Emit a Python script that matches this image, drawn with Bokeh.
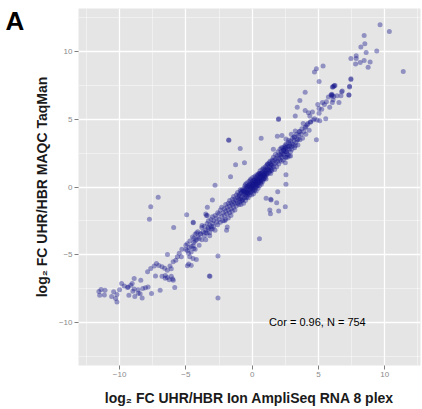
from bokeh.plotting import figure
from bokeh.models import Range1d, FixedTicker, Label
from bokeh.layouts import row
from bokeh.core.properties import value
from bokeh.embed import file_html
from bokeh.resources import INLINE

# ---- data ----
lower_tail = [(-7.65,-1.46),(-7.75,-2.39),(-7.09,-0.76),(-5.92,-2.99),(-6.39,-4.99),(-5.96,-5.53),(-5.76,-5.41),(-5.64,-5.16),
              (-5.34,-5.16),(-4.71,-5.16),(-4.46,-5.28),(-4.21,-5.36),(-4.89,-5.83),(-4.79,-5.7),(-4.59,-5.8),(-7.22,-5.65),
              (-7.04,-5.8),(-7.89,-6.27),(-7.65,-6.02),(-7.39,-5.85),(-6.8,-5.9),(-6.6,-6.0),(-6.4,-6.15),(-6.2,-5.85),
              (-6.1,-6.05),(-6.8,-6.6),(-6.55,-6.75),(-6.4,-6.7),(-6.25,-6.85),(-6.1,-6.6),(-5.95,-6.9),(-6.0,-6.8),
              (-6.55,-6.55),(-7.29,-6.59),(-5.84,-7.43),(-6.94,-7.63),(-7.59,-7.87),(-3.23,-6.59),(-8.4,-6.89),(-8.9,-6.76),
              (-9.05,-7.13),(-9.85,-7.13),(-9.65,-7.33),(-9.4,-7.43),(-9.15,-7.26),(-8.9,-7.55),(-8.6,-7.6),(-8.25,-7.5),
              (-8.05,-7.45),(-7.85,-7.4),(-8.45,-7.9),(-8.3,-8.2),(-8.85,-8.1),(-8.6,-7.85),(-9.3,-8.0),(-9.35,-7.4),
              (-9.0,-7.7),(-10.0,-7.6),(-10.2,-7.95),(-10.45,-7.75),(-10.6,-8.1),(-10.3,-8.25),(-10.2,-8.5),(-11.56,-7.73),
              (-11.4,-7.58),(-11.1,-7.63),(-11.15,-7.98),(-11.5,-8.0),(-2.58,-5.1),(-3.18,-6.6),(-2.58,-8.2),
              (-5.0,-4.3),(-4.75,-4.5),(-4.6,-4.8),(-4.4,-4.55),(-4.9,-4.7),(-4.45,-4.35),(-5.3,-4.6),(-5.5,-4.9)]

lower_band = [(-5.0,-4.6),(-4.9,-4.2),(-4.8,-4.9),(-4.7,-4.0),(-4.6,-4.4),(-4.5,-3.7),(-4.4,-4.1),(-4.3,-3.5),(-4.3,-4.6),
              (-4.2,-3.9),(-4.1,-3.3),(-4.0,-3.8),(-4.0,-4.3),(-3.9,-3.5),(-3.8,-3.0),(-3.8,-3.9),(-3.7,-3.3),(-3.6,-3.6),
              (-3.6,-2.9),(-3.5,-3.2),(-3.5,-3.9),(-3.4,-2.7),(-3.4,-3.4),(-3.3,-3.0),(-3.3,-2.5),(-3.2,-3.6),(-3.2,-2.8),
              (-3.1,-2.4),(-3.1,-3.1),(-3.0,-2.7),(-3.0,-2.2),(-2.9,-2.9),(-2.9,-2.5),(-2.8,-2.1),(-2.8,-3.2),(-2.7,-2.6),
              (-2.7,-2.3),(-2.6,-1.9),(-2.6,-2.8),(-2.5,-2.4),(-2.5,-2.0),(-2.4,-1.7),(-2.4,-2.6),(-2.3,-2.2),(-2.3,-1.5),
              (-2.2,-1.9),(-2.2,-2.5),(-2.1,-1.6),(-2.1,-2.1),(-2.0,-1.3),(-2.0,-1.8),(-2.0,-2.4),(-1.9,-1.5),(-1.9,-2.0),
              (-1.8,-1.2),(-1.8,-1.7),(-1.8,-2.3),(-1.7,-1.4),(-1.7,-1.0),(-1.7,-1.9),(-1.6,-1.2),(-1.6,-1.6),(-1.6,-2.1),
              (-1.5,-0.9),(-1.5,-1.3),(-1.5,-1.8),(-1.4,-1.1),(-1.4,-1.5),(-1.4,-0.7),(-1.3,-1.2),(-1.3,-0.9),(-1.3,-1.7),
              (-1.2,-0.6),(-1.2,-1.0),(-1.2,-1.4),(-1.1,-0.8),(-1.1,-1.2),(-1.1,-0.4),(-1.0,-0.9),(-1.0,-0.6),(-1.0,-1.3),
              (-4.44,-2.64),(-3.78,-2.84),(-3.89,-3.43),(-3.53,-3.39),(-3.21,-3.39),(-3.33,-3.09),(-4.1,-3.7),(-4.3,-4.0),
              (-4.2,-3.4),(-4.4,-3.8)]

core = [(-1.0,-0.7),(-0.95,-1.1),(-0.9,-0.5),(-0.9,-0.9),(-0.85,-0.3),(-0.85,-1.3),(-0.8,-0.7),(-0.8,-0.4),(-0.75,-1.0),
        (-0.75,-0.2),(-0.7,-0.6),(-0.7,-0.9),(-0.65,-0.3),(-0.65,-1.2),(-0.6,-0.5),(-0.6,-0.1),(-0.6,-0.8),(-0.55,-0.4),
        (-0.55,0.1),(-0.5,-0.6),(-0.5,-0.2),(-0.5,-1.0),(-0.45,0.0),(-0.45,-0.4),(-0.4,-0.7),(-0.4,-0.1),(-0.4,0.3),
        (-0.35,-0.3),(-0.35,-0.5),(-0.3,0.1),(-0.3,-0.2),(-0.3,-0.8),(-0.25,0.4),(-0.25,-0.4),(-0.2,0.0),(-0.2,-0.6),
        (-0.2,0.2),(-0.15,-0.2),(-0.15,0.5),(-0.1,0.1),(-0.1,-0.4),(-0.1,-0.1),(-0.05,0.3),(-0.05,-0.6),(0.0,0.0),
        (0.0,0.4),(0.0,-0.3),(0.05,0.2),(0.05,0.7),(0.1,-0.1),(0.1,0.3),(0.1,-0.5),(0.15,0.5),(0.15,0.1),(0.2,0.8),
        (0.2,0.2),(0.2,-0.2),(0.25,0.4),(0.25,0.0),(0.3,0.6),(0.3,0.2),(0.3,-0.3),(0.35,0.9),(0.35,0.4),(0.4,0.1),
        (0.4,0.5),(0.4,0.8),(0.45,0.3),(0.45,-0.1),(0.5,0.6),(0.5,1.0),(0.5,0.3),(0.55,0.7),(0.55,0.1),(0.6,0.5),
        (0.6,0.9),(0.6,1.2),(0.65,0.4),(0.65,0.8),(0.7,1.0),(0.7,0.6),(0.7,0.2),(0.75,0.8),(0.75,1.3),(0.8,0.7),
        (0.8,1.1),(0.8,0.4),(0.85,0.9),(0.85,1.4),(0.9,1.0),(0.9,0.6),(0.95,1.2),(0.95,0.8),(1.0,1.1),(1.0,1.5),
        (1.0,0.7),(1.05,1.3),(1.1,0.9),(1.1,1.6),(1.1,1.2),(1.15,1.4),(1.2,1.0),(1.2,1.7),(1.25,1.3),(1.3,1.5),
        (1.3,1.1),(1.35,1.9),(1.4,1.4),(1.4,1.7),(1.45,1.2),(1.5,1.6),(1.5,2.0),
        (-0.9,-0.2),(-0.8,-1.0),(-0.7,-0.3),(-0.6,-0.3),(-0.5,0.2),(-0.45,-0.8),(-0.4,-0.4),(-0.35,0.0),(-0.3,-0.5),
        (-0.25,0.1),(-0.2,-0.3),(-0.15,0.2),(-0.1,0.6),(-0.05,0.0),(0.0,-0.1),(0.0,0.2),(0.05,-0.2),(0.1,0.5),
        (0.1,0.1),(0.15,-0.3),(0.15,0.3),(0.2,0.5),(0.25,0.7),(0.25,0.2),(0.3,0.4),(0.3,0.0),(0.35,0.6),(0.35,0.1),
        (0.4,0.3),(0.45,0.6),(0.45,0.9),(0.5,0.4),(0.55,0.5),(0.55,1.0),(0.6,0.7),(0.65,0.3),(0.65,1.0),(0.7,0.8),
        (0.75,0.5),(0.8,0.9),(0.85,0.6),(0.9,1.3),(0.9,0.8),(0.95,1.0),(1.0,0.9),(1.05,0.6),(1.1,1.0),(1.15,1.7),
        (1.2,1.3),(1.3,1.8),(1.35,1.2),(1.4,1.0),(1.45,1.6),(1.5,1.3)]

upper_band = [(1.55,1.9),(1.6,1.5),(1.6,2.2),(1.65,1.7),(1.7,2.0),(1.7,1.3),(1.75,2.4),(1.8,1.8),(1.8,2.1),(1.85,1.5),
              (1.9,2.3),(1.9,1.9),(1.95,2.6),(2.0,2.1),(2.0,1.7),(2.05,2.4),(2.1,2.0),(2.1,2.8),(2.15,2.3),(2.2,1.9),
              (2.2,2.6),(2.25,2.2),(2.3,2.9),(2.3,2.5),(2.35,2.0),(2.4,2.7),(2.4,2.4),(2.45,3.0),(2.5,2.6),(2.5,2.2),
              (2.55,2.9),(2.6,2.5),(2.6,3.2),(2.65,2.8),(2.7,2.4),(2.7,3.0),(2.75,3.3),(2.8,2.8),(2.85,3.1),(2.9,2.6),
              (2.9,3.4),(2.95,3.0),(3.0,3.2),(3.0,2.8),(3.05,3.6),(3.1,3.1),(3.15,3.4),(3.2,2.9),(3.2,3.7),(3.3,3.3),
              (3.35,3.9),(3.4,3.5),(3.45,3.1),(3.5,3.8),(3.55,4.1),(3.6,3.5),(3.7,3.9),(3.75,4.3),(3.8,3.6),(3.9,4.1),
              (4.0,4.4),(4.05,3.9),(4.15,4.6),(4.3,4.2),(4.4,4.8),(2.2,2.9),(2.5,3.1),(2.8,2.3),(2.35,2.7),(2.65,2.2)]

upper_tail = [(9.65,12.0),(10.35,11.5),(8.45,11.2),(8.5,10.6),(8.2,10.35),(8.6,9.95),(9.4,10.05),(7.85,9.7),(7.85,9.5),
              (7.45,9.5),(8.15,9.2),(8.45,9.35),(8.9,9.25),(7.8,9.1),(8.75,8.85),(11.4,8.55),(7.45,7.95),(7.35,7.4),
              (6.8,7.1),(6.25,7.5),(6.05,7.4),(5.95,6.8),(6.0,6.85),(6.7,6.75),(7.3,6.8),(4.85,8.75),(4.7,8.5),(5.35,8.95),
              (5.05,7.8),(4.0,7.0),(6.15,7.45),(6.2,7.5),(6.1,7.4),(7.45,8.0),(7.35,7.45),(6.75,7.05),(7.3,6.8),
              (6.0,6.75),(6.05,6.8),(6.15,6.7),(6.4,6.75),(5.75,6.65),(3.6,6.4),(5.6,6.3),(5.45,6.1),(6.05,6.25),
              (6.1,6.45),(6.55,6.25),(4.95,6.1),(5.3,6.25),(3.4,5.9),(5.25,5.75),(5.05,5.8),(5.85,5.9),(4.0,5.65),
              (4.25,5.5),(4.55,5.55),(5.05,5.45),(4.35,5.25),(1.98,5.0),(3.25,5.25),(4.7,5.05),(4.6,4.95),(4.9,4.95),
              (5.1,4.9),(5.55,5.05),(4.2,4.7),(3.85,4.7),(4.4,4.8),(4.05,4.45),(3.6,4.1),(3.25,4.15),(2.95,3.9),
              (3.15,3.7),(2.75,3.45),(2.55,3.55),(3.45,3.55),(1.9,3.75),(2.25,3.8),(4.85,3.5),(3.25,3.05),(1.6,2.8),
              (2.2,2.4),(2.4,2.8),(2.6,2.6),(2.8,3.0),(2.9,2.3),(2.5,2.9)]

outliers = [(-1.75,3.45),(-0.9,2.85),(0.68,3.6),(-1.25,1.65),(-0.58,1.8),(-1.63,0.76),(-2.8,0.13),(-3.0,-0.96),
            (-3.5,-2.0),(-3.45,-2.1),(-4.45,-2.6),(0.55,-3.83),(2.55,0.9),(2.55,0.2),(1.43,-0.96),(1.4,-0.9),
            (1.85,-1.16),(2.0,-1.78),(2.5,-1.46),(1.33,-1.7),(1.38,-1.98),(1.05,-0.84),(2.5,1.8),(2.55,2.2),
            (1.93,-0.35),(-2.08,-2.5),(-1.88,-2.96),(-1.93,-3.19),(-3.08,-2.94),(-3.0,-3.1),(-4.94,-2.05),
            (-3.38,-1.5),(-3.38,-2.1),(-1.78,3.48),(2.0,5.04)]

x_ticks = [-10, -5, 0, 5, 10]
y_ticks = [-10, -5, 0, 5, 10]
minor_ticks = [-12.5, -7.5, -2.5, 2.5, 7.5, 12.5]
x_label = "log\u2082 FC UHR/HBR Ion AmpliSeq RNA 8 plex"
y_label = "log\u2082 FC UHR/HBR MAQC TaqMan"
stat_text = "Cor = 0.96, N = 754"
panel_letter = ["A"]

groups = [lower_tail, lower_band, core, upper_band, upper_tail, outliers]
xs = [pt[0] for g in groups for pt in g]
ys = [pt[1] for g in groups for pt in g]

# ---- narrow strip holding the panel letter ----
LW = 30
pa = figure(width=LW, height=409, output_backend="svg", toolbar_location=None,
            x_range=Range1d(0, LW), y_range=Range1d(409, 0),
            min_border=0, outline_line_color=None, background_fill_color="white",
            border_fill_color="white", x_axis_type=None, y_axis_type=None)
pa.grid.visible = False
pa.text(x=[5], y=[14], text=panel_letter, text_font=value("Liberation Sans"), text_font_style="bold",
        text_font_size="26px", text_color="black", text_baseline="alphabetic", text_align="left")

# ---- main scatter ----
p = figure(width=422 - LW, height=409, output_backend="svg", toolbar_location=None,
           x_range=Range1d(-13.1, 12.7), y_range=Range1d(-13.2, 13.2),
           min_border_left=77 - LW, min_border_right=2, min_border_top=8, min_border_bottom=44,
           background_fill_color="#e5e5e5", border_fill_color="white", outline_line_color=None)

for ax, ticks in ((p.xaxis[0], x_ticks), (p.yaxis[0], y_ticks)):
    ax.ticker = FixedTicker(ticks=ticks, minor_ticks=minor_ticks)
    ax.axis_line_color = None
    ax.major_tick_line_color = "#7f7f7f"
    ax.major_tick_in = 0
    ax.major_tick_out = 4
    ax.minor_tick_line_color = None
    ax.major_label_text_font = "Liberation Sans"
    ax.major_label_text_font_size = "8px"
    ax.major_label_text_color = "#8a8a8a"
    ax.axis_label_text_font = "Liberation Sans"
    ax.axis_label_text_font_size = "14px"
    ax.axis_label_text_font_style = "bold"
    ax.axis_label_text_color = "#1a1a1a"

p.xaxis.axis_label = x_label
p.yaxis.axis_label = y_label
p.xaxis.major_label_standoff = 2
p.yaxis.major_label_standoff = 2
p.xaxis.axis_label_standoff = 10
p.yaxis.axis_label_standoff = 6

for g in (p.xgrid[0], p.ygrid[0]):
    g.grid_line_color = "white"
    g.grid_line_width = 1.3
    g.minor_grid_line_color = "white"
    g.minor_grid_line_alpha = 0.6
    g.minor_grid_line_width = 0.7

p.scatter(xs, ys, size=5, fill_color="#14148c", fill_alpha=0.4, line_color=None)

p.add_layout(Label(x=1.28, y=-10.0, text=stat_text, text_baseline="middle", text_align="left",
                   text_font="Liberation Sans", text_font_size="11px", text_color="black"))

layout = row(pa, p, spacing=0)
open("out.html", "w").write(file_html(layout, INLINE))
